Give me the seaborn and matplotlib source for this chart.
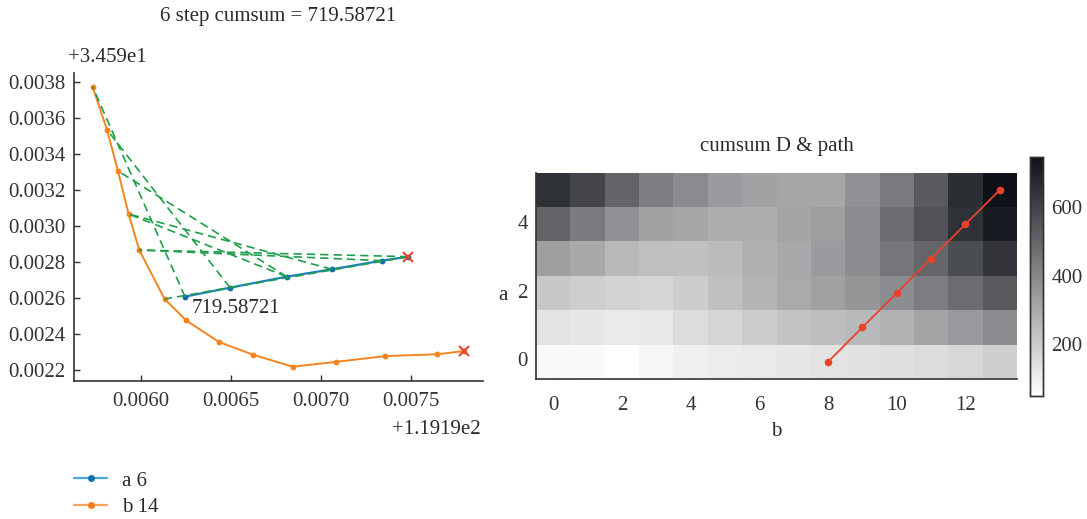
import numpy as np
import matplotlib
matplotlib.use("Agg")
import matplotlib.pyplot as plt
import seaborn as sns
from matplotlib.colors import LinearSegmentedColormap
from matplotlib.lines import Line2D
from matplotlib.ticker import ScalarFormatter

# ---------------- data ----------------
X_OFF = 119.19
Y_OFF = 34.59
a_x = [0.007487, 0.007339, 0.007061, 0.006811, 0.006496, 0.006246]
a_y = [0.002828, 0.002806, 0.002758, 0.002717, 0.002656, 0.002606]
b_x = [0.007796, 0.007648, 0.007359, 0.007087, 0.006844, 0.006626, 0.006435,
       0.006253, 0.006133, 0.005992, 0.005933, 0.005874, 0.005813, 0.005733]
b_y = [0.002304, 0.002286, 0.002276, 0.002244, 0.002217, 0.002283, 0.002354,
       0.002474, 0.002593, 0.002865, 0.003065, 0.003304, 0.003533, 0.003772]
# heatmap path (red)
path_a = [0, 1, 2, 3, 4, 5]
path_b = [8, 9, 10, 11, 12, 13]
# matched pairs drawn as dashed green links (a index, b index)
link_a = [0, 0, 1, 2, 3, 3, 4, 5]
link_b = [8, 9, 9, 10, 10, 11, 12, 13]
cost_text = "719.58721"
title_left = "6 step cumsum = 719.58721"
title_right = "cumsum D & path"
legend_labels = ["a 6", "b 14"]
x_ticks = [0.0060, 0.0065, 0.0070, 0.0075]
y_ticks = [0.0022, 0.0024, 0.0026, 0.0028, 0.0030, 0.0032, 0.0034, 0.0036, 0.0038]

D = [
    [69, 64, 49, 78, 93, 104, 113, 122, 131, 134, 142, 151, 168, 189],
    [131, 122, 113, 119, 151, 174, 201, 224, 241, 256, 279, 317, 346, 387],
    [212, 195, 180, 171, 198, 233, 265, 300, 326, 358, 384, 431, 480, 533],
    [332, 302, 256, 238, 235, 250, 282, 302, 343, 384, 451, 498, 573, 640],
    [503, 436, 372, 323, 308, 291, 291, 317, 334, 390, 477, 556, 655, 719],
    [655, 594, 503, 428, 390, 343, 323, 308, 308, 372, 434, 533, 661, 748],
]

# ---------------- style ----------------
sns.set_style("ticks")
plt.rcParams["font.family"] = ["Liberation Serif", "DejaVu Serif"]
plt.rcParams["font.size"] = 15
plt.rcParams["xtick.direction"] = "in"
plt.rcParams["ytick.direction"] = "in"
plt.rcParams["axes.edgecolor"] = "#333333"
plt.rcParams["xtick.color"] = "#333333"
plt.rcParams["ytick.color"] = "#333333"
plt.rcParams["text.color"] = "#2a2a2a"
plt.rcParams["axes.labelcolor"] = "#2a2a2a"

BLUE = "#1f80c0"
BLUE_M = "#0a70b0"
ORANGE = "#f5841f"
GREEN = "#1e9e4a"
RED = "#e8432a"

W, H = 1087, 519
fig = plt.figure(figsize=(W / 100, H / 100), dpi=100)

def fx(px):
    return px / W

def fy(py):
    return 1 - py / H

# ---------------- left panel ----------------
ax = fig.add_axes([fx(74), fy(380.7), fx(408.7), (308.0 / H)])
ax_xs = [X_OFF + v for v in a_x]
ax_ys = [Y_OFF + v for v in a_y]
bx_xs = [X_OFF + v for v in b_x]
bx_ys = [Y_OFF + v for v in b_y]

for ia, ib in zip(link_a, link_b):
    ax.plot([ax_xs[ia], bx_xs[ib]], [ax_ys[ia], bx_ys[ib]], color=GREEN,
            lw=1.2, ls=(0, (5, 3)), zorder=3)

sns.lineplot(x=bx_xs, y=bx_ys, sort=False, ax=ax, color=ORANGE, lw=1.4,
             marker="o", markersize=4.2, markeredgewidth=0, zorder=2)
sns.lineplot(x=ax_xs, y=ax_ys, sort=False, ax=ax, color=BLUE, lw=1.6,
             marker="o", markersize=4.2, markeredgewidth=0,
             markerfacecolor=BLUE_M, zorder=2)
ax.plot([ax_xs[0]], [ax_ys[0]], marker="x", color=RED, ms=7, mew=1.5, ls="none", zorder=5)
ax.plot([bx_xs[0]], [bx_ys[0]], marker="x", color=RED, ms=7, mew=1.5, ls="none", zorder=5)

ax.annotate(cost_text, xy=(ax_xs[-1], ax_ys[-1]), xytext=(5, -2),
            textcoords="offset points", ha="left", va="top", fontsize=15)

ax.xaxis.set_major_formatter(ScalarFormatter(useOffset=X_OFF))
ax.yaxis.set_major_formatter(ScalarFormatter(useOffset=Y_OFF))
ax.set_xticks([X_OFF + t for t in x_ticks])
ax.set_yticks([Y_OFF + t for t in y_ticks])
ax.margins(0.05)
ax.tick_params(axis="x", length=4, width=1, pad=8, labelsize=15)
ax.tick_params(axis="y", length=4, width=1, pad=6, labelsize=15)
sns.despine(ax=ax)
ax.spines["left"].set_linewidth(1.2)
ax.spines["bottom"].set_linewidth(1.2)
ax.xaxis.get_offset_text().set_visible(False)
ax.yaxis.get_offset_text().set_visible(False)

fig.text(fx(278.3), fy(17), title_left, ha="center", va="center", fontsize=15)

handles = [
    Line2D([], [], color="#4aa6dc", lw=1.6, marker="o", ms=5,
           markerfacecolor=BLUE_M, markeredgewidth=0),
    Line2D([], [], color="#f8a45a", lw=1.6, marker="o", ms=5,
           markerfacecolor="#f07c1e", markeredgewidth=0),
]
fig.legend(handles, legend_labels, loc="upper left",
           bbox_to_anchor=(fx(74), fy(471)), frameon=False, borderpad=0,
           borderaxespad=0, handlelength=1.6, handletextpad=0.7,
           labelspacing=0.35, fontsize=15)

# ---------------- right panel ----------------
cmap = LinearSegmentedColormap.from_list("greyish", ["#ffffff", "#0e1117"])
axh = fig.add_axes([fx(536), fy(379), fx(481), 206.3 / H])
cax = fig.add_axes([fx(1030), fy(396), fx(13), 239.3 / H])
sns.heatmap(np.array(D), ax=axh, cmap=cmap, cbar_ax=cax, cbar=True)
axh.invert_yaxis()
axh.set_xticks(np.arange(0, 14, 2) + 0.5)
axh.set_xticklabels([str(v) for v in range(0, 14, 2)], rotation=0)
axh.set_yticks(np.arange(0, 6, 2) + 0.5)
axh.set_yticklabels([str(v) for v in range(0, 6, 2)], rotation=0)
axh.tick_params(axis="y", length=4, width=1, pad=6, labelsize=15, direction="in")
axh.tick_params(axis="x", length=4, width=1, pad=12, labelsize=15, direction="in")
for s in ["left", "bottom"]:
    axh.spines[s].set_visible(True)
    axh.spines[s].set_color("#333333")
    axh.spines[s].set_linewidth(1.2)

axh.plot(np.array(path_b) + 0.5, np.array(path_a) + 0.5, color=RED, lw=1.3,
         marker="o", ms=5.5, markeredgewidth=0)

axh.set_xlabel("b", fontsize=15)
axh.set_ylabel("a", fontsize=15, rotation=0)
axh.xaxis.set_label_coords(0.5, (379 - 432) / 206.3)
axh.yaxis.set_label_coords((503 - 536) / 481, (379 - 296) / 206.3)
axh.xaxis.label.set_va("center")
axh.yaxis.label.set_va("center")

fig.text(fx(776.5), fy(147), title_right, ha="center", va="center", fontsize=15)

cax.set_yticks([200, 400, 600])
cax.tick_params(length=5, width=1, labelsize=15, direction="in", pad=6)
for s in cax.spines.values():
    s.set_visible(True)
    s.set_color("#333333")
    s.set_linewidth(1)

# offset texts, taken from the formatters
fig.canvas.draw()
fig.text(fx(68), fy(58), ax.yaxis.get_major_formatter().get_offset(),
         ha="left", va="center", fontsize=15)
fig.text(fx(481), fy(430), ax.xaxis.get_major_formatter().get_offset(),
         ha="right", va="center", fontsize=15)

fig.savefig("out.png", dpi=100)
